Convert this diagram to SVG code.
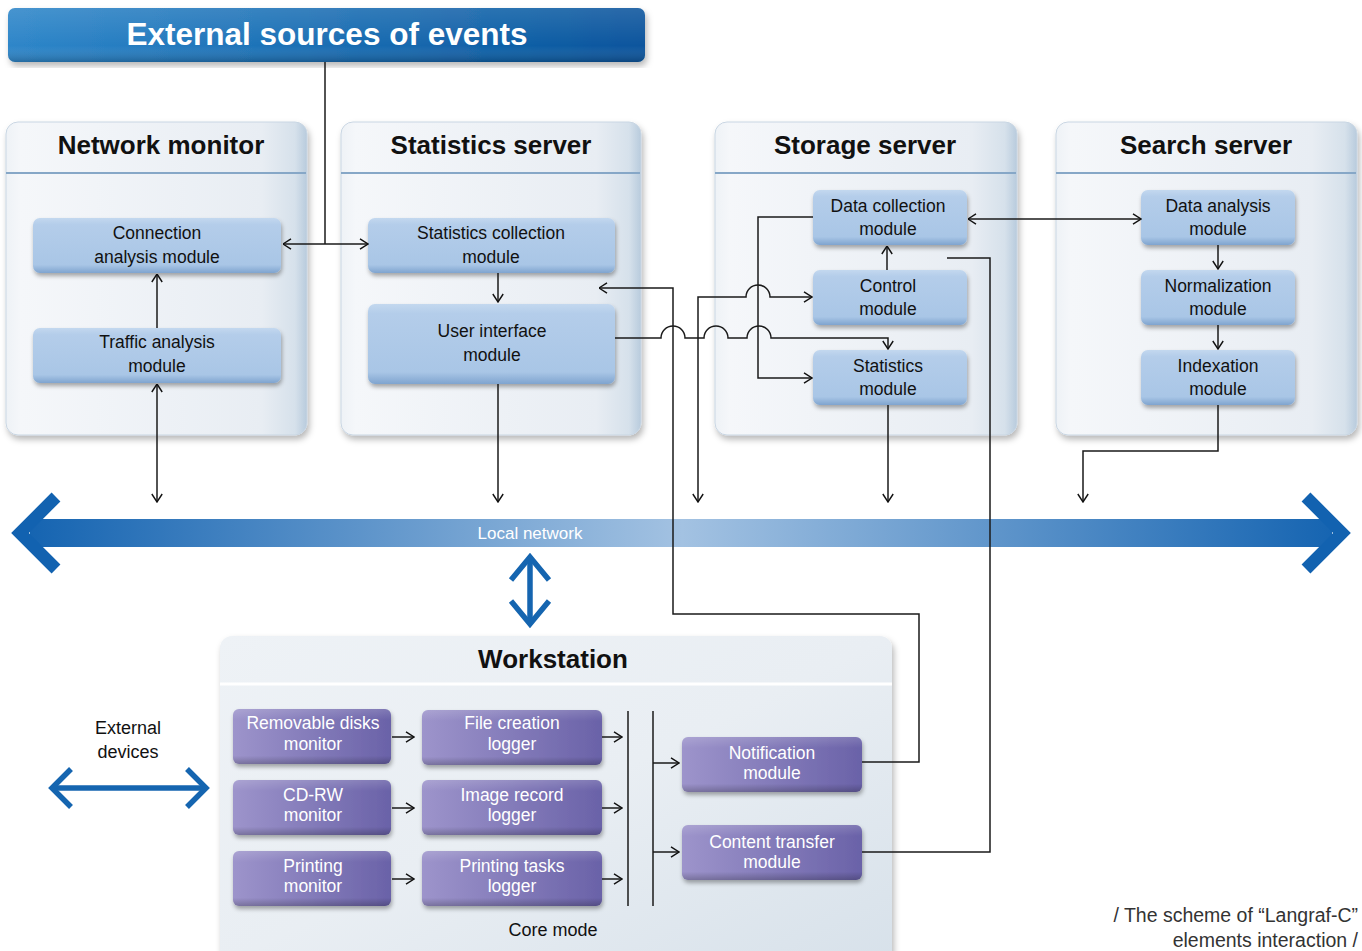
<svg xmlns="http://www.w3.org/2000/svg" width="1362" height="951" viewBox="0 0 1362 951">
<defs>
<style>
.hd{font-family:"Liberation Sans",Arial,sans-serif;font-weight:bold;font-size:26px;fill:#111;text-anchor:middle}
.mt{font-family:"Liberation Sans",Arial,sans-serif;font-size:17.5px;fill:#111;text-anchor:middle}
.pt{font-family:"Liberation Sans",Arial,sans-serif;font-size:17.5px;fill:#fff;text-anchor:middle}
.ln{fill:none;stroke:#1a1a1a;stroke-width:1.5}
.bm{fill:url(#gBlue);filter:url(#sh)}
.pm{fill:url(#gPurp);filter:url(#sh)}
.pn{fill:url(#gPanel);stroke:#c9d6e3;stroke-width:1;filter:url(#psh)}
.sep{stroke:#86a7c7;stroke-width:2}
.bl{fill:none;stroke:#1565b0;stroke-width:5.5;stroke-linecap:butt}
</style>
<linearGradient id="gTitle" x1="0" y1="0" x2="1" y2="0">
<stop offset="0" stop-color="#2e86c9"/><stop offset="1" stop-color="#07559d"/>
</linearGradient>
<linearGradient id="gTitleV" x1="0" y1="0" x2="0" y2="1">
<stop offset="0" stop-color="#fff" stop-opacity="0.12"/><stop offset="0.7" stop-color="#fff" stop-opacity="0"/><stop offset="1" stop-color="#000" stop-opacity="0.2"/>
</linearGradient>
<linearGradient id="gPanel" x1="0" y1="0" x2="1" y2="0">
<stop offset="0" stop-color="#eef2f6"/><stop offset="0.05" stop-color="#f5f7fa"/><stop offset="0.85" stop-color="#e8edf3"/><stop offset="0.96" stop-color="#d6e1eb"/><stop offset="1" stop-color="#b8cbdd"/>
</linearGradient>
<linearGradient id="gWs" x1="0" y1="0" x2="1" y2="1">
<stop offset="0" stop-color="#eef2f6"/><stop offset="0.5" stop-color="#e9eef3"/><stop offset="1" stop-color="#d7e1ea"/>
</linearGradient>
<linearGradient id="gBlue" x1="0" y1="0" x2="0" y2="1">
<stop offset="0" stop-color="#c3d8ef"/><stop offset="0.12" stop-color="#b4cdea"/><stop offset="0.85" stop-color="#a9c6e6"/><stop offset="1" stop-color="#7fa4cf"/>
</linearGradient>
<linearGradient id="gPurp" x1="0" y1="0" x2="1" y2="0">
<stop offset="0" stop-color="#9d94cb"/><stop offset="1" stop-color="#6a62a8"/>
</linearGradient>
<linearGradient id="gPurpV" x1="0" y1="0" x2="0" y2="1">
<stop offset="0" stop-color="#fff" stop-opacity="0.15"/><stop offset="0.2" stop-color="#fff" stop-opacity="0"/><stop offset="0.85" stop-color="#000" stop-opacity="0"/><stop offset="1" stop-color="#000" stop-opacity="0.22"/>
</linearGradient>
<linearGradient id="gNet" x1="14" y1="0" x2="1350" y2="0" gradientUnits="userSpaceOnUse">
<stop offset="0" stop-color="#1262b0"/><stop offset="0.5" stop-color="#a3c2e2"/><stop offset="1" stop-color="#1262b0"/>
</linearGradient>
<filter id="sh" x="-10%" y="-20%" width="125%" height="160%">
<feDropShadow dx="1" dy="3" stdDeviation="2" flood-color="#000" flood-opacity="0.33"/>
</filter>
<filter id="psh" x="-5%" y="-5%" width="112%" height="115%">
<feDropShadow dx="2" dy="4" stdDeviation="3" flood-color="#000" flood-opacity="0.28"/>
</filter>
<marker id="ar" viewBox="0 0 10 12" refX="9.5" refY="6" markerWidth="10" markerHeight="12" markerUnits="userSpaceOnUse" orient="auto-start-reverse">
<path d="M1.5,0.8 L9.5,6 L1.5,11.2" fill="none" stroke="#111" stroke-width="1.4"/>
</marker>
</defs>
<rect width="1362" height="951" fill="#fff"/>

<g id="title">
<rect x="8" y="8" width="637" height="54" rx="7" fill="url(#gTitle)" filter="url(#psh)"/>
<rect x="8" y="8" width="637" height="54" rx="7" fill="url(#gTitleV)"/>
<text x="327" y="45" font-family="Liberation Sans,Arial,sans-serif" font-weight="bold" font-size="31.5" fill="#fff" text-anchor="middle">External sources of events</text>
</g>

<g id="network-monitor">
<rect class="pn" x="6" y="122" width="301" height="313" rx="12"/>
<line class="sep" x1="6" y1="173" x2="306" y2="173"/>
<text class="hd" x="161" y="154">Network monitor</text>
</g>
<g id="statistics-server">
<rect class="pn" x="341" y="122" width="300" height="313" rx="12"/>
<line class="sep" x1="341" y1="173" x2="640" y2="173"/>
<text class="hd" x="491" y="154">Statistics server</text>
</g>
<g id="storage-server">
<rect class="pn" x="715" y="122" width="302" height="313" rx="12"/>
<line class="sep" x1="715" y1="173" x2="1016" y2="173"/>
<text class="hd" x="865" y="154">Storage server</text>
</g>
<g id="search-server">
<rect class="pn" x="1056" y="122" width="301" height="313" rx="12"/>
<line class="sep" x1="1056" y1="173" x2="1356" y2="173"/>
<text class="hd" x="1206" y="154">Search server</text>
</g>

<g id="connection-analysis"><rect class="bm" x="33" y="218" width="248" height="55" rx="7"/><text class="mt" x="157" y="239">Connection</text><text class="mt" x="157" y="263">analysis module</text></g>
<g id="traffic-analysis"><rect class="bm" x="33" y="328" width="248" height="55" rx="7"/><text class="mt" x="157" y="348">Traffic analysis</text><text class="mt" x="157" y="372">module</text></g>
<g id="statistics-collection"><rect class="bm" x="368" y="218" width="247" height="55" rx="7"/><text class="mt" x="491" y="239">Statistics collection</text><text class="mt" x="491" y="263">module</text></g>
<g id="user-interface"><rect class="bm" x="368" y="304" width="247" height="80" rx="7"/><text class="mt" x="492" y="337">User interface</text><text class="mt" x="492" y="361">module</text></g>
<g id="data-collection"><rect class="bm" x="813" y="190" width="154" height="55" rx="7"/><text class="mt" x="888" y="212">Data collection</text><text class="mt" x="888" y="235">module</text></g>
<g id="control"><rect class="bm" x="813" y="270" width="154" height="55" rx="7"/><text class="mt" x="888" y="292">Control</text><text class="mt" x="888" y="315">module</text></g>
<g id="statistics-module"><rect class="bm" x="813" y="350" width="154" height="55" rx="7"/><text class="mt" x="888" y="372">Statistics</text><text class="mt" x="888" y="395">module</text></g>
<g id="data-analysis"><rect class="bm" x="1141" y="190" width="154" height="55" rx="7"/><text class="mt" x="1218" y="212">Data analysis</text><text class="mt" x="1218" y="235">module</text></g>
<g id="normalization"><rect class="bm" x="1141" y="270" width="154" height="55" rx="7"/><text class="mt" x="1218" y="292">Normalization</text><text class="mt" x="1218" y="315">module</text></g>
<g id="indexation"><rect class="bm" x="1141" y="350" width="154" height="55" rx="7"/><text class="mt" x="1218" y="372">Indexation</text><text class="mt" x="1218" y="395">module</text></g>

<g id="local-network">
<rect x="30" y="519" width="1302" height="28" fill="url(#gNet)"/>
<path d="M56,497 L20,533 L56,569" fill="none" stroke="#1262b0" stroke-width="12.5"/>
<path d="M1306,497 L1342,533 L1306,569" fill="none" stroke="#1262b0" stroke-width="12.5"/>
<text x="530" y="539" font-family="Liberation Sans,Arial,sans-serif" font-size="17" fill="#fff" text-anchor="middle">Local network</text>
</g>
<g id="network-workstation-link">
<path class="bl" d="M530,558 V623"/>
<path class="bl" d="M511,580 L530,557 L549,580"/>
<path class="bl" d="M511,601 L530,624 L549,601"/>
</g>

<g id="workstation">
<rect x="220" y="636" width="672" height="330" rx="12" fill="url(#gWs)" filter="url(#psh)"/>
<line x1="220" y1="684" x2="892" y2="684" stroke="#fff" stroke-width="3"/>
<text class="hd" x="553" y="668">Workstation</text>
<text x="553" y="936" font-family="Liberation Sans,Arial,sans-serif" font-size="18" fill="#111" text-anchor="middle">Core mode</text>
</g>
<g id="removable-disks"><rect class="pm" x="233" y="709" width="158" height="55" rx="6"/><rect x="233" y="709" width="158" height="55" rx="6" fill="url(#gPurpV)"/><text class="pt" x="313" y="729">Removable disks</text><text class="pt" x="313" y="750">monitor</text></g>
<g id="file-creation"><rect class="pm" x="422" y="710" width="180" height="55" rx="6"/><rect x="422" y="710" width="180" height="55" rx="6" fill="url(#gPurpV)"/><text class="pt" x="512" y="729">File creation</text><text class="pt" x="512" y="750">logger</text></g>
<g id="cd-rw"><rect class="pm" x="233" y="780" width="158" height="55" rx="6"/><rect x="233" y="780" width="158" height="55" rx="6" fill="url(#gPurpV)"/><text class="pt" x="313" y="801">CD-RW</text><text class="pt" x="313" y="821">monitor</text></g>
<g id="image-record"><rect class="pm" x="422" y="780" width="180" height="55" rx="6"/><rect x="422" y="780" width="180" height="55" rx="6" fill="url(#gPurpV)"/><text class="pt" x="512" y="801">Image record</text><text class="pt" x="512" y="821">logger</text></g>
<g id="printing-monitor"><rect class="pm" x="233" y="851" width="158" height="55" rx="6"/><rect x="233" y="851" width="158" height="55" rx="6" fill="url(#gPurpV)"/><text class="pt" x="313" y="872">Printing</text><text class="pt" x="313" y="892">monitor</text></g>
<g id="printing-tasks"><rect class="pm" x="422" y="851" width="180" height="55" rx="6"/><rect x="422" y="851" width="180" height="55" rx="6" fill="url(#gPurpV)"/><text class="pt" x="512" y="872">Printing tasks</text><text class="pt" x="512" y="892">logger</text></g>
<g id="notification"><rect class="pm" x="682" y="737" width="180" height="55" rx="6"/><rect x="682" y="737" width="180" height="55" rx="6" fill="url(#gPurpV)"/><text class="pt" x="772" y="759">Notification</text><text class="pt" x="772" y="779">module</text></g>
<g id="content-transfer"><rect class="pm" x="682" y="825" width="180" height="55" rx="6"/><rect x="682" y="825" width="180" height="55" rx="6" fill="url(#gPurpV)"/><text class="pt" x="772" y="848">Content transfer</text><text class="pt" x="772" y="868">module</text></g>

<g id="external-devices">
<text x="128" y="734" font-family="Liberation Sans,Arial,sans-serif" font-size="18" fill="#111" text-anchor="middle">External</text>
<text x="128" y="758" font-family="Liberation Sans,Arial,sans-serif" font-size="18" fill="#111" text-anchor="middle">devices</text>
<path class="bl" d="M53,788 H205"/>
<path class="bl" d="M71,769 L52,788 L71,807"/>
<path class="bl" d="M187,769 L206,788 L187,807"/>
</g>

<g id="connectors">
<path class="ln" d="M325,62 V244"/>
<path class="ln" d="M283,244 H368" marker-start="url(#ar)" marker-end="url(#ar)"/>
<path class="ln" d="M157,328 V274" marker-end="url(#ar)"/>
<path class="ln" d="M157,502 V384" marker-start="url(#ar)" marker-end="url(#ar)"/>
<path class="ln" d="M498,273 V302" marker-end="url(#ar)"/>
<path class="ln" d="M498,384 V502" marker-end="url(#ar)"/>
<path class="ln" d="M862,762 H919 V614 H673 V288 H599" marker-end="url(#ar)"/>
<path class="ln" d="M615,338 H661 a12,12 0 0 1 24,0 H704 a12,12 0 0 1 24,0 H747 a12,12 0 0 1 24,0 H888 V349" marker-end="url(#ar)"/>
<path class="ln" d="M698,502 V297 H746 a12,12 0 0 1 24,0 H812" marker-start="url(#ar)" marker-end="url(#ar)"/>
<path class="ln" d="M813,217 H758 V378 H812" marker-end="url(#ar)"/>
<path class="ln" d="M887,270 V246" marker-end="url(#ar)"/>
<path class="ln" d="M968,219 H1141" marker-start="url(#ar)" marker-end="url(#ar)"/>
<path class="ln" d="M1218,245 V269" marker-end="url(#ar)"/>
<path class="ln" d="M1218,325 V349" marker-end="url(#ar)"/>
<path class="ln" d="M1218,405 V451 H1083 V502" marker-end="url(#ar)"/>
<path class="ln" d="M888,405 V502" marker-end="url(#ar)"/>
<path class="ln" d="M862,852 H990 V258 H947"/>
<path class="ln" d="M392,737 H414" marker-end="url(#ar)"/>
<path class="ln" d="M392,808 H414" marker-end="url(#ar)"/>
<path class="ln" d="M392,879 H414" marker-end="url(#ar)"/>
<path class="ln" d="M602,737 H622" marker-end="url(#ar)"/>
<path class="ln" d="M602,808 H622" marker-end="url(#ar)"/>
<path class="ln" d="M602,879 H622" marker-end="url(#ar)"/>
<path class="ln" d="M628,711 V906"/>
<path class="ln" d="M653,711 V906"/>
<path class="ln" d="M653,763 H679" marker-end="url(#ar)"/>
<path class="ln" d="M653,852 H679" marker-end="url(#ar)"/>
</g>

<g id="caption">
<text x="1358" y="922" font-family="Liberation Sans,Arial,sans-serif" font-size="19.5" fill="#333" text-anchor="end">/ The scheme of “Langraf-C”</text>
<text x="1358" y="947" font-family="Liberation Sans,Arial,sans-serif" font-size="19.5" fill="#333" text-anchor="end">elements interaction /</text>
</g>
</svg>
